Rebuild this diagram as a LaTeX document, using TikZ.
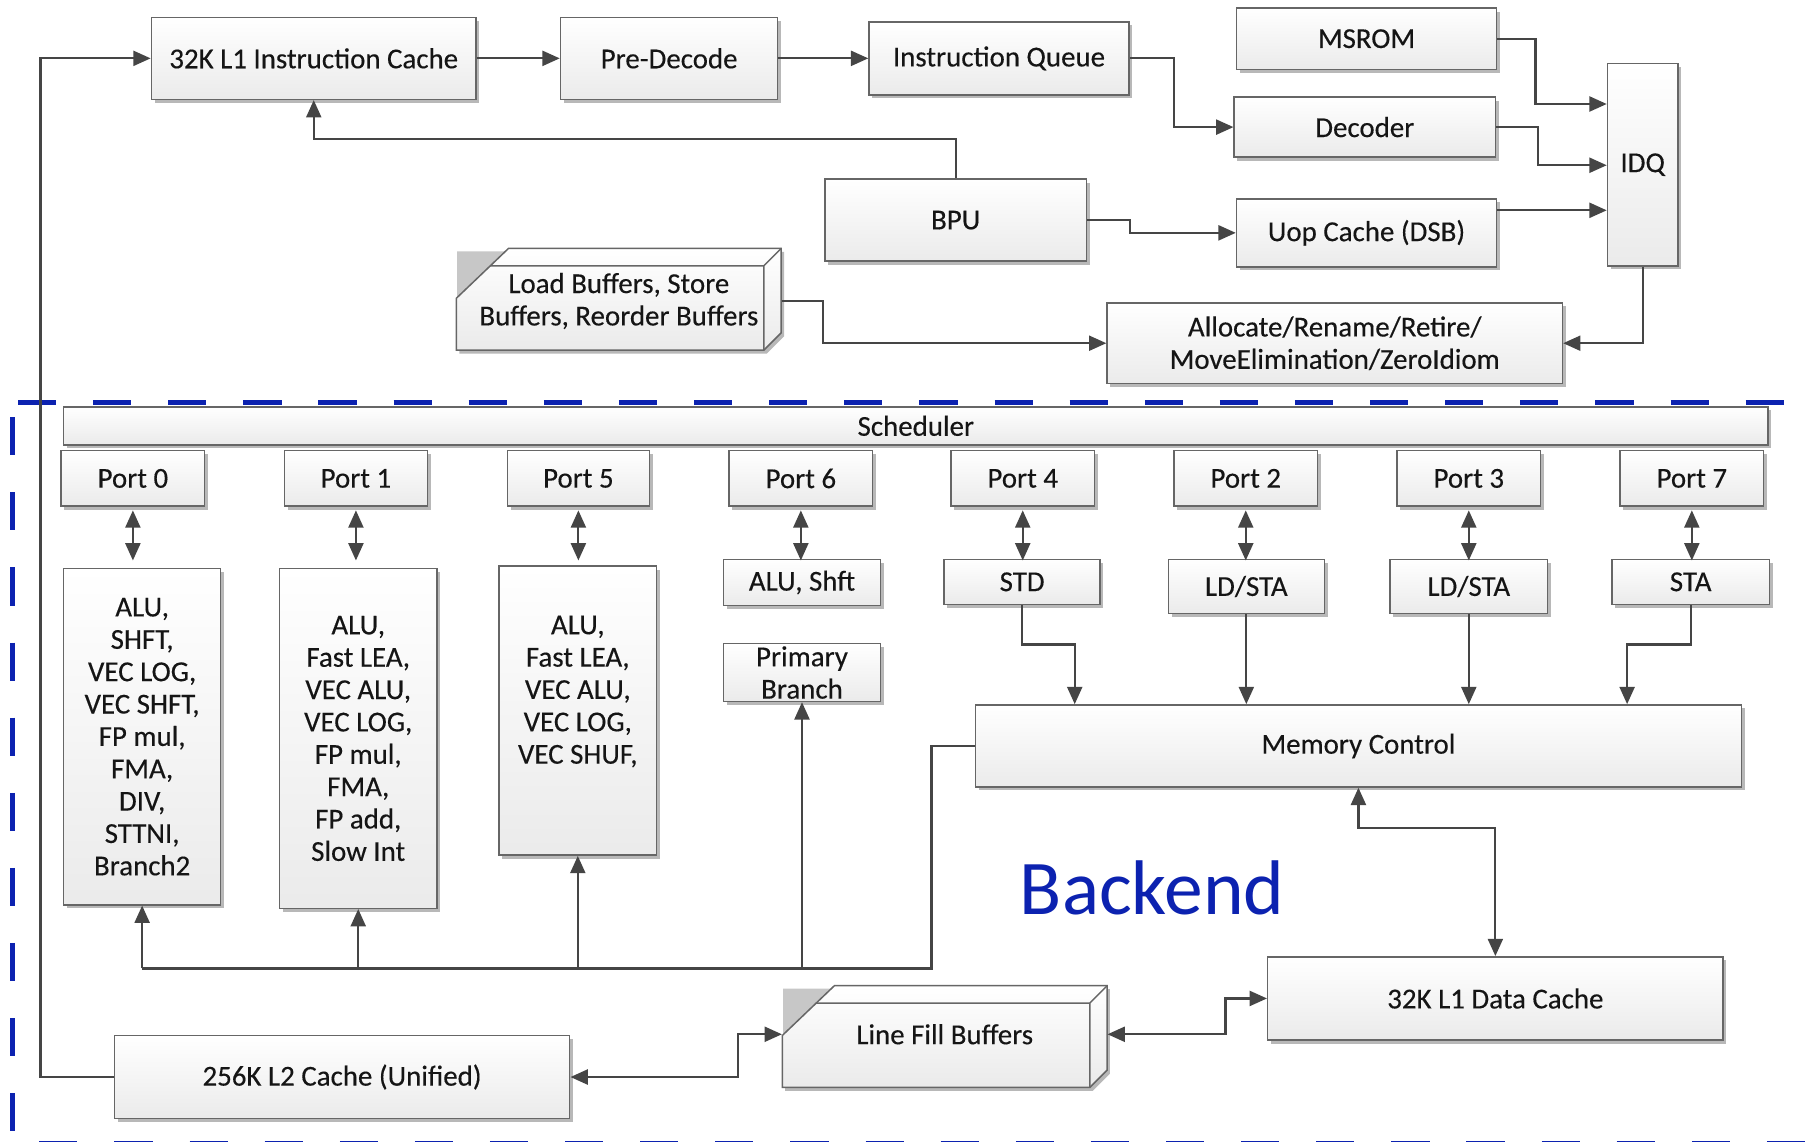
\documentclass[tikz,border=0pt]{standalone}
\usepackage{fontspec}
\setmainfont{Carlito}[FakeBold=0.3]
\newfontfamily\plainfont{Carlito}
\usetikzlibrary{arrows.meta,shadows}

\definecolor{edgegray}{HTML}{454545}
\definecolor{framegray}{HTML}{666666}
\definecolor{shadowgray}{HTML}{B8B8B8}
\definecolor{inkgray}{HTML}{151515}
\definecolor{backblue}{HTML}{0C22B0}

\tikzset{
  txt/.style={inner sep=0pt, align=center, text=inkgray, font=\fontsize{12.5}{14}\selectfont},
  blk/.style={txt, draw=framegray, line width=0.65pt, top color=white, bottom color=black!8,
    drop shadow={shadow xshift=1.4pt, shadow yshift=-1.5pt, fill=shadowgray, opacity=1}},
  wire/.style={draw=edgegray, line width=0.95pt},
  tip/.style={-{Triangle[length=7.5pt,width=6.5pt]}},
  dbl/.style={{Triangle[length=7.5pt,width=6.5pt]}-{Triangle[length=7.5pt,width=6.5pt]}},
  zone/.style={draw=backblue, line width=2.2pt, dash pattern=on 16.5pt off 16pt}
}

% rectangular block from its corners (x1,y1)-(x2,y2)
\newcommand\blkbox[7][]{%
  \node[blk, minimum width={(#5-#3)*0.5pt}, minimum height={(#6-#4)*0.5pt}, #1]
    (#2) at ({(#3+#5)/2},{(#4+#6)/2}) {#7};}

% bevelled buffer block, drawn at an offset from its base position
% #1 name, #2/#3 offset, #4 label, #5 vertical nudge of the label
\newcommand\crate[5]{%
  \begin{scope}[shift={(#2,#3)}]
    \fill[shadowgray] (397.5,261) -- (442.5,218) -- (678.5,218) -- (678.5,291)
      -- (663.5,306) -- (397.5,306) -- cycle;
    \fill[black!22] (395.6,257) -- (395.6,217.5) -- (437,217.5) -- cycle;
    \path[draw=framegray, line width=0.65pt, top color=white, bottom color=black!8]
      (395,258) -- (440,215) -- (676,215) -- (676,288) -- (661,303) -- (395,303) -- cycle;
    \draw[framegray, line width=0.65pt] (424,230) -- (661,230) -- (676,215)
      (661,230) -- (661,303);
    \node[txt, minimum width=140.5pt, minimum height=44pt] (#1) at (535.5,{259+#5}) {#4};
  \end{scope}}

\begin{document}
\begin{tikzpicture}[x=0.5pt, y=-0.5pt]
\useasboundingbox (0,0) rectangle (1568,988);
\fill[white] (0,0) rectangle (1568,988);

% ---------------- front end ----------------
\blkbox{l1i}{131}{15}{412}{86}{32K L1 Instruction Cache}
\blkbox{pre}{485}{15}{673}{86}{Pre-Decode}
\blkbox{iq}{752}{19}{977}{82}{Instruction Queue}
\blkbox{msrom}{1070}{7}{1295}{60}{MSROM}
\blkbox{dec}{1068}{84}{1294}{136}{Decoder}
\blkbox{idq}{1391}{55}{1452}{230}{IDQ}
\blkbox{bpu}{714}{155}{940}{226}{BPU}
\blkbox{uop}{1070}{172}{1295}{231}{Uop Cache (DSB)}
\blkbox{alloc}{958}{262}{1352}{332}{Allocate/Rename/Retire/\\MoveElimination/ZeroIdiom}
\crate{lb}{0}{0}{Load Buffers, Store\\Buffers, Reorder Buffers}{1.5}

\draw[wire,tip] (l1i.east) -- (pre.west);
\draw[wire,tip] (pre.east) -- (iq.west);
\draw[wire,tip] (iq.east) -- ++(38,0) |- (dec.west);
\draw[wire,tip] (msrom.east) -- ++(33,0) |- (idq.west |- 0,90);
\draw[wire,tip] (dec.east) -- ++(36,0) |- (idq.west |- 0,143);
\draw[wire,tip] (uop.east |- 0,182) -- (idq.west |- 0,182);
\draw[wire,tip] (bpu.east) -- ++(37,0) |- (uop.west);
\draw[wire,tip] (bpu.north) -- ++(0,-34) -| (l1i.south);
\draw[wire,tip] (idq.south) |- (alloc.east);
\draw[wire,tip] (lb.east) -- ++(36,0) |- (alloc.west);

% ---------------- back end ----------------
\draw[zone] (15.6,348.5) -- (1545,348.5);
\draw[zone] (11,361) -- (11,980);
\draw[zone] (34,989.4) -- (1568,989.4);

\blkbox{sched}{55}{352}{1530}{385}{Scheduler}

\blkbox{p0}{53}{390}{177}{438}{Port 0}
\blkbox{p1}{246}{390}{370}{438}{Port 1}
\blkbox{p5}{439}{390}{562}{438}{Port 5}
\blkbox{p6}{631}{390}{755}{438}{Port 6}
\blkbox{p4}{823}{390}{947}{438}{Port 4}
\blkbox{p2}{1016}{390}{1140}{438}{Port 2}
\blkbox{p3}{1209}{390}{1333}{438}{Port 3}
\blkbox{p7}{1402}{390}{1526}{438}{Port 7}

\blkbox{u0}{55}{492}{191}{783}{ALU,\\SHFT,\\VEC LOG,\\VEC SHFT,\\FP mul,\\FMA,\\DIV,\\STTNI,\\Branch2}
\blkbox{u1}{242}{492}{378}{786}{ALU,\\Fast LEA,\\VEC ALU,\\VEC LOG,\\FP mul,\\FMA,\\FP add,\\Slow Int}
\blkbox{u5}{432}{490}{568}{740}{ALU,\\Fast LEA,\\VEC ALU,\\VEC LOG,\\VEC SHUF,\\\strut}
\blkbox{u6}{626}{484}{762}{524}{ALU, Shft}
\blkbox{pb}{626}{557}{762}{607}{Primary\\Branch}
\blkbox{std}{817}{484}{952}{523}{STD}
\blkbox{lds2}{1011}{484}{1146}{531}{LD/STA}
\blkbox{lds3}{1203}{484}{1339}{531}{LD/STA}
\blkbox{sta}{1395}{484}{1531}{523}{STA}

\blkbox{mem}{844}{610}{1507}{681}{Memory Control}
\blkbox{l1d}{1097}{828}{1491}{900}{32K L1 Data Cache}
\blkbox{l2}{99}{896}{493}{968}{256K L2 Cache (Unified)}
\crate{lfb}{282}{638}{Line Fill Buffers}{-2}

\node[inner sep=0pt, text=backblue, font=\plainfont\fontsize{33.5}{40}\selectfont] (backend) at (997,768) {Backend};

% ports to execution units
\foreach \p/\u in {p0/u0,p1/u1,p5/u5,p6/u6,p4/std,p2/lds2,p3/lds3,p7/sta}
  \draw[wire,dbl,shorten <=1.5pt] (\p.south) -- (\p.south |- 0,485);

% store / load units to memory control
\draw[wire,tip] (std.south) -- ++(0,34) -| (930,0 |- mem.north);
\draw[wire,tip] (lds2.south) -- (lds2.south |- mem.north);
\draw[wire,tip] (lds3.south) -- (lds3.south |- mem.north);
\draw[wire,tip] (sta.south) -- ++(0,34) -| (1408,0 |- mem.north);

% memory control to the execution units
\coordinate (busR) at (806,838);
\draw[wire] (mem.west) -| (busR) -- (u0.south |- busR);
\draw[wire,tip] (u0.south |- busR) -- (u0.south);
\draw[wire,tip] (u1.south |- busR) -- (u1.south);
\draw[wire,tip] (u5.south |- busR) -- (u5.south);
\draw[wire,tip] (pb.south |- busR) -- (pb.south);

% cache hierarchy
\draw[wire,dbl] (mem.south) -- ++(0,35) -| (l1d.north);
\draw[wire,dbl] (l2.east) -- ++(145,0) |- (lfb.west |- 0,895);
\draw[wire,dbl] (lfb.east |- 0,895) -- ++(102,0) |- (l1d.west);
\coordinate (l2loop) at (35,0 |- l2.west);
\draw[wire,tip] (l2.west) -- (l2loop) |- (l1i.west);
\end{tikzpicture}
\end{document}
